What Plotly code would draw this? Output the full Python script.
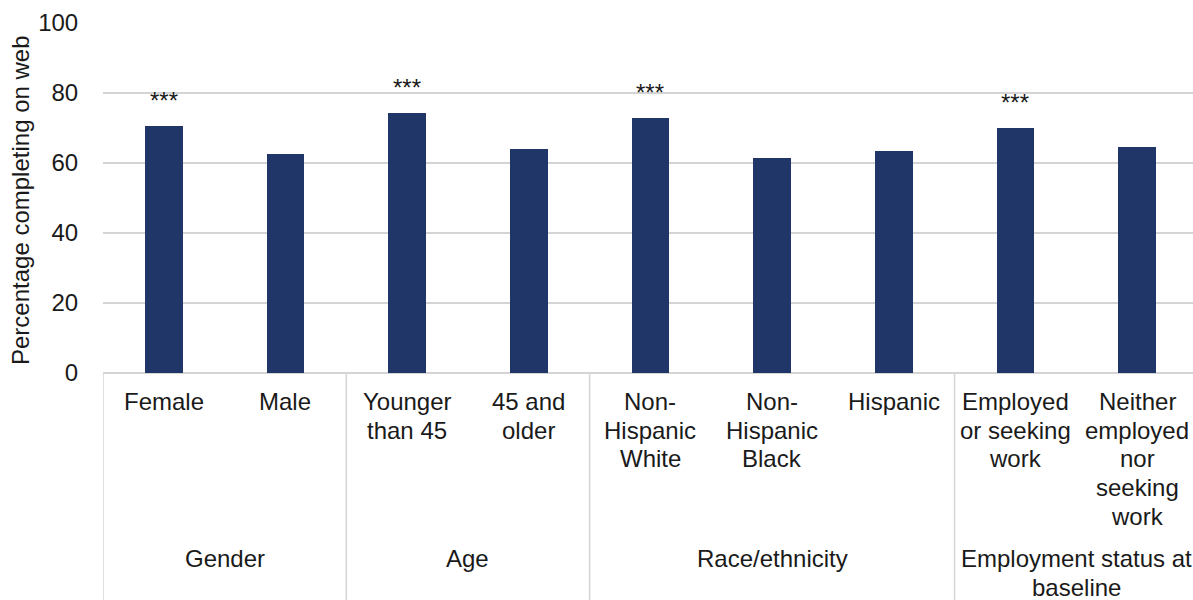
import plotly.graph_objects as go

# Web completion rates by subgroup
groups = ["Gender", "Age", "Race/ethnicity", "Employment status at<br>baseline"]
group_sizes = [2, 2, 3, 2]
categories = [
    "Female", "Male",
    "Younger<br>than 45", "45 and<br>older",
    "Non-<br>Hispanic<br>White", "Non-<br>Hispanic<br>Black", "Hispanic",
    "Employed<br>or seeking<br>work", "Neither<br>employed<br>nor<br>seeking<br>work",
]
values = [70.6, 62.6, 74.3, 64.0, 72.9, 61.4, 63.5, 70.0, 64.6]
significance = ["***", "", "***", "", "***", "", "", "***", ""]
y_ticks = [0, 20, 40, 60, 80, 100]

FONT = "Liberation Sans, Arial, sans-serif"
BAR_COLOR = "#213668"
GRID_COLOR = "#d4d4d4"
TEXT_COLOR = "#1a1a1a"
FS = 24
LINE_STEP = 28.7  # tighter line spacing than plotly's default for wrapped labels

x_pos = list(range(len(categories)))

fig = go.Figure()
fig.add_trace(go.Bar(
    x=x_pos, y=values, width=0.31,
    marker=dict(color=BAR_COLOR, line=dict(width=0)),
    hoverinfo="skip",
))

annotations = []


def add_lines(x, label, first_shift):
    """Place a wrapped label one line at a time below the axis."""
    for k, line in enumerate(label.split("<br>")):
        annotations.append(dict(
            x=x, y=0, xref="x", yref="paper", text=line, showarrow=False,
            yanchor="top", xanchor="center", yshift=first_shift - k * LINE_STEP,
            font=dict(family=FONT, size=FS, color=TEXT_COLOR),
        ))


# significance markers above bars
for xi, v, s in zip(x_pos, values, significance):
    if s:
        annotations.append(dict(
            x=xi, y=v, xref="x", yref="y", text=s, showarrow=False,
            yanchor="bottom", xanchor="center", yshift=10,
            font=dict(family=FONT, size=FS, color=TEXT_COLOR),
        ))

# category labels under the axis
for xi, c in zip(x_pos, categories):
    add_lines(xi, c, -13)

# group labels and separators
shapes = []
start = 0
boundaries = [-0.5]
for g, n in zip(groups, group_sizes):
    center = start + (n - 1) / 2
    add_lines(center, g, -170)
    start += n
    boundaries.append(start - 0.5)

for b in boundaries:
    shapes.append(dict(
        type="line", xref="x", yref="paper", x0=b, x1=b, y0=0, y1=-0.66,
        line=dict(color=GRID_COLOR, width=1.5), layer="below",
    ))

# y-axis title
annotations.append(dict(
    x=0, y=0.5, xref="paper", yref="paper", text="Percentage completing on web",
    showarrow=False, textangle=-90, xanchor="center", yanchor="middle",
    xshift=-83, yshift=-2, font=dict(family=FONT, size=24, color=TEXT_COLOR),
))

fig.update_layout(
    width=1193, height=600,
    margin=dict(l=103, r=0, t=23, b=227),
    paper_bgcolor="white", plot_bgcolor="white",
    showlegend=False,
    bargap=0,
    xaxis=dict(
        range=[-0.5, 8.46], showticklabels=False, showgrid=False,
        zeroline=False, showline=False, fixedrange=True,
    ),
    yaxis=dict(
        range=[0, 100], tickvals=y_ticks, showgrid=True,
        gridcolor=GRID_COLOR, gridwidth=1.5,
        zeroline=True, zerolinecolor=GRID_COLOR, zerolinewidth=1.5,
        showline=False, ticks="outside", ticklen=19, tickcolor="rgba(0,0,0,0)",
        tickfont=dict(family=FONT, size=FS, color=TEXT_COLOR),
        fixedrange=True,
    ),
    annotations=annotations,
    shapes=shapes,
)

fig.write_html("out.html", config={"displayModeBar": False})
